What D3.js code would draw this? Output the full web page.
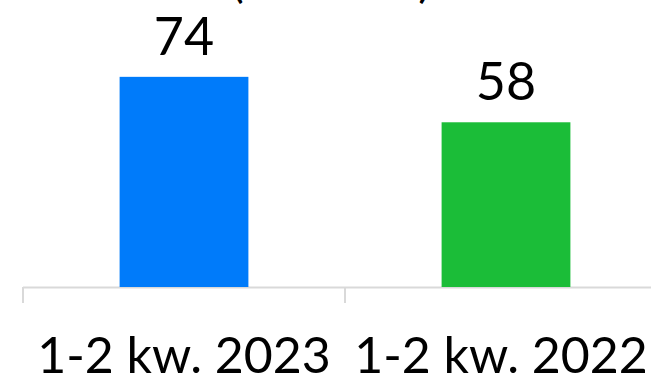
<!DOCTYPE html>
<html>
<head>
<meta charset="utf-8">
<script src="https://cdn.jsdelivr.net/npm/d3@7"></script>
<style>
  body { margin: 0; background: #fff; }
  svg { display: block; font-family: Lato, sans-serif; }
</style>
</head>
<body>
<div id="chart"></div>
<script>
// data
const categories = ['1-2 kw. 2023', '1-2 kw. 2022'];
const values = [74, 58];
const colors = ['#007bfa', '#1bbd38'];
const titleText = '(w mln zł)';

const width = 651, height = 379;
const axisY = 287;

const svg = d3.select('#chart').append('svg')
    .attr('width', width)
    .attr('height', height);

// scales
const x = d3.scaleBand().domain(categories).range([23, 667]).padding(0);
const y = d3.scaleLinear().domain([0, 100]).range([axisY, 3]);
const barW = x.bandwidth() * 0.4;

// cut-off title
svg.append('text')
    .attr('x', 331)
    .attr('y', -3)
    .attr('text-anchor', 'middle')
    .attr('font-size', 48)
    .attr('fill', '#000')
    .text(titleText);

// axis
const axis = svg.append('g').attr('class', 'axis');
axis.append('line')
    .attr('x1', x.range()[0]).attr('x2', x.range()[1])
    .attr('y1', axisY + 0.5).attr('y2', axisY + 0.5)
    .attr('stroke', '#d9d9d9').attr('stroke-width', 2);
const tickXs = categories.map(d => x(d)).concat([x.range()[1]]);
axis.selectAll('.tick')
    .data(tickXs)
    .enter().append('line')
    .attr('class', 'tick')
    .attr('x1', d => d).attr('x2', d => d)
    .attr('y1', axisY).attr('y2', axisY + 16)
    .attr('stroke', '#d9d9d9').attr('stroke-width', 2);

// bars
svg.selectAll('.bar')
    .data(values)
    .enter().append('rect')
    .attr('class', 'bar')
    .attr('x', (d, i) => x(categories[i]) + x.bandwidth() / 2 - barW / 2)
    .attr('y', d => y(d))
    .attr('width', barW)
    .attr('height', d => axisY - y(d))
    .attr('fill', (d, i) => colors[i]);

// value labels
svg.selectAll('.val')
    .data(values)
    .enter().append('text')
    .attr('class', 'val')
    .attr('x', (d, i) => x(categories[i]) + x.bandwidth() / 2)
    .attr('y', d => y(d) - 22)
    .attr('text-anchor', 'middle')
    .attr('font-size', 52)
    .attr('fill', '#000')
    .text(d => d);

// category labels
svg.selectAll('.cat')
    .data(categories)
    .enter().append('text')
    .attr('class', 'cat')
    .attr('x', (d, i) => x(d) + x.bandwidth() / 2 - i * 5)
    .attr('y', 373)
    .attr('text-anchor', 'middle')
    .attr('font-size', 50)
    .attr('fill', '#000')
    .text(d => d);
</script>
</body>
</html>
